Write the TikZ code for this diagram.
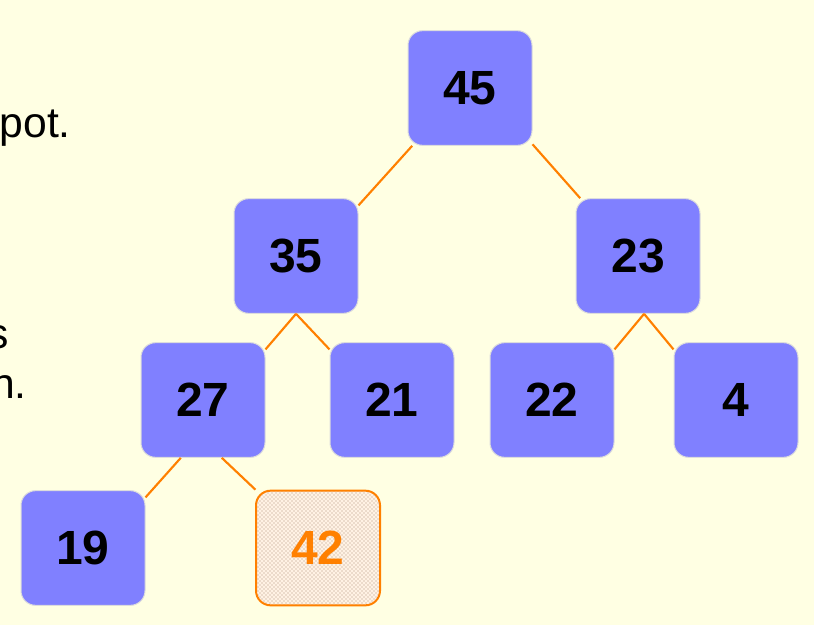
\documentclass[tikz,border=0pt]{standalone}
\usepackage{fontspec}
\setmainfont{Liberation Sans}
\usepackage{tikz}
\usetikzlibrary{patterns}
\definecolor{SlideBack}{HTML}{FFFFE3}
\definecolor{KeyBlue}{HTML}{8080FF}
\definecolor{KeyEdge}{HTML}{DCDCDC}
\definecolor{LinkOrange}{HTML}{FF8000}
\definecolor{NewFill}{HTML}{FFF2E4}
\definecolor{NewDots}{HTML}{B0927A}

\tikzset{
  key/.style={draw=KeyEdge, line width=0.75pt, fill=KeyBlue,
    rounded corners=11pt, minimum width=93pt, minimum height=86pt,
    inner sep=0pt, font=\fontsize{36}{40}\selectfont\bfseries},
  newkey/.style={draw=LinkOrange, line width=1.5pt, text=LinkOrange,
    preaction={fill=NewFill}, pattern=crosshatch dots,
    pattern color=NewDots, rounded corners=11pt, minimum width=93pt,
    minimum height=86pt, inner sep=0pt,
    font=\fontsize{36}{40}\selectfont\bfseries},
  link/.style={LinkOrange, line width=1.6pt},
  cuttext/.style={anchor=base east, inner sep=0pt,
    font=\fontsize{32}{38}\selectfont}
}

\begin{document}
\begin{tikzpicture}[x=0.75pt, y=-0.75pt]
    % Background
    \fill[SlideBack] (0,0) rectangle (814,625);
    \useasboundingbox (0,0) rectangle (814,625);
    % Text cut at the left edge
    \node[cuttext] (tpot) at (71,137) {pot.};
    \node[cuttext] (ts) at (9,348) {s};
    \node[cuttext] (tn) at (27,398) {n.};
    % Keys
    \node[key] (n45) at (470,88) {45};
    \node[key] (n35) at (296,256) {35};
    \node[key] (n23) at (638,256) {23};
    \node[key] (n27) at (203,400) {27};
    \node[key] (n21) at (392,400) {21};
    \node[key] (n22) at (552,400) {22};
    \node[key] (n4) at (736,400) {4};
    \node[key] (n19) at (83,548) {19};
    \node[newkey] (n42) at (318,548) {42};
    % Links
    \draw[link] (n45.225) -- (n35.39);
    \draw[link] (n45.-42) -- (n23.135);
    \draw[link] (n35.south) -- (n27.39);
    \draw[link] (n35.south) -- (n21.141);
    \draw[link] (n23.-84) -- (n22.39);
    \draw[link] (n23.-84) -- (n4.141);
    \draw[link] (n27.-111) -- (n19.39);
    \draw[link] (n27.-72) -- (n42.137);
\end{tikzpicture}
\end{document}
